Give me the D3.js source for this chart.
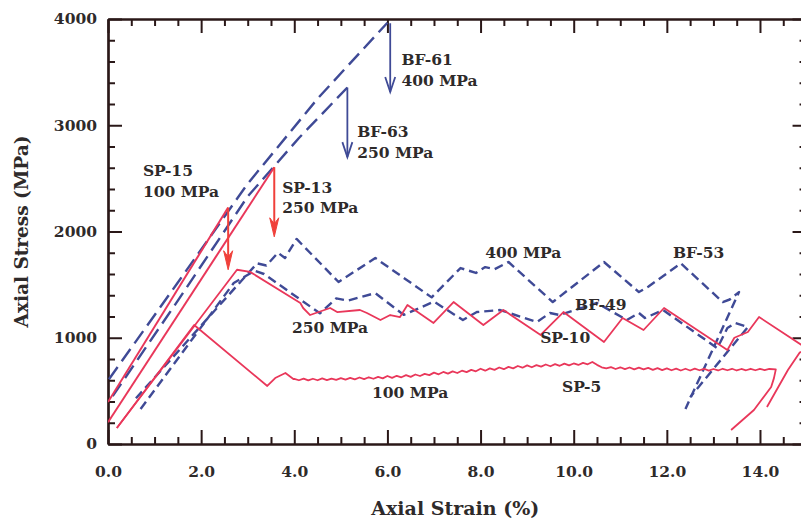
<!DOCTYPE html>
<html><head><meta charset="utf-8">
<script src="https://cdn.jsdelivr.net/npm/d3@7/dist/d3.min.js"></script>
<style>
body{margin:0;background:#fff}
svg{display:block}
text{font-family:"DejaVu Serif",serif;font-weight:bold}
</style>
</head><body>
<svg id="c" width="801" height="532"></svg>
<script>
// ---------- data (strain %, stress MPa) ----------
const xMajorTicks = [0, 2, 4, 6, 8, 10, 12, 14];
const yMajorTicks = [0, 1000, 2000, 3000, 4000];

const BF61 = [[0.02,610],[1.5,1520],[3.0,2450],[4.5,3250],[6.0,3965]];
const BF63 = [[0.1,450],[1.5,1350],[3.0,2330],[4.1,2880],[5.14,3355]];
const SP15 = [[0.0,395],[2.58,2225]];
const SP13 = [[0.0,205],[3.57,2605]];

const BF53 = [[0.6,430],[3.2,1700],[3.4,1680],[3.65,1800],[3.8,1750],[4.05,1930],
  [4.95,1525],[5.74,1750],[6.95,1380],[7.57,1656],[7.9,1610],[8.1,1665],[8.3,1645],
  [8.6,1713],[9.55,1336],[10.65,1713],[11.4,1430],[11.6,1480],[12.3,1700],[13.2,1336],
  [13.35,1360],[13.55,1430],[12.4,330]];

const BF49 = [[0.7,330],[2.7,1515],[3.15,1630],[3.35,1600],[4.55,1230],[4.9,1370],
  [5.15,1350],[5.74,1420],[6.35,1215],[7.0,1340],[7.62,1167],[7.92,1242],[8.42,1261],
  [9.21,1148],[9.49,1233],[9.7,1214],[10.5,1327],[11.14,1167],[11.4,1233],[11.53,1186],
  [11.92,1261],[13.08,903],[13.15,960],[13.3,1092],[13.47,1139],[13.74,1101],[12.5,440]];

const SP10 = [[0.19,150],[2.77,1640],[3.05,1620],[4.13,1327],[4.19,1280],[4.34,1214],
  [4.77,1280],[4.92,1242],[5.41,1261],[5.56,1233],[5.85,1167],[6.06,1214],[6.27,1195],
  [6.43,1308],[6.99,1139],[7.42,1336],[8.06,1120],[8.49,1261],[9.29,1026],[9.78,1242],
  [10.65,960],[11.05,1186],[11.5,1073],[11.94,1280],[13.3,885],[13.45,1000],[13.74,1054],
  [13.98,1195],[14.9,930],[15.05,900],[14.85,860],[14.6,696],[14.15,348]];

const SP5 = [[0.19,150],[1.85,1120],[3.42,546],[3.59,621],[3.81,668],[3.98,612],
  [4.0,612],[4.1,600],[4.2,615],[4.3,598],[4.4,614],[4.5,600],[4.6,618],[4.7,602],[4.8,616],[4.9,604],
  [5.0,620],[5.1,606],[5.2,622],[5.3,608],[5.4,626],[5.5,610],[5.6,628],[5.7,614],[5.8,632],[5.9,618],
  [6.0,640],[6.1,622],[6.2,642],[6.3,628],[6.4,648],[6.5,632],[6.6,654],[6.7,640],[6.8,660],[6.9,648],
  [7.0,672],[7.1,656],[7.2,678],[7.3,662],[7.4,684],[7.5,668],[7.6,690],[7.7,676],[7.8,698],[7.9,684],
  [8.0,708],[8.1,690],[8.2,712],[8.3,698],[8.4,720],[8.5,704],[8.6,726],[8.7,712],[8.8,734],[8.9,718],
  [9.0,740],[9.1,722],[9.2,742],[9.3,728],[9.4,748],[9.5,732],[9.6,752],[9.7,736],[9.8,756],[9.9,740],
  [10.0,758],[10.1,744],[10.2,764],[10.3,750],[10.4,772],[10.5,745],[10.6,722],[10.7,712],[10.8,724],[10.9,706],
  [11.0,722],[11.1,704],[11.2,720],[11.3,702],[11.4,718],[11.5,702],[11.6,716],[11.7,698],[11.8,714],[11.9,696],
  [12.0,712],[12.1,694],[12.2,710],[12.3,692],[12.4,708],[12.5,692],[12.6,710],[12.7,694],[12.8,708],[12.9,690],
  [13.0,706],[13.1,692],[13.2,708],[13.3,694],[13.4,708],[13.5,692],[13.6,706],[13.7,694],[13.8,708],[13.9,694],
  [14.0,708],[14.1,696],[14.2,706],[14.34,702],[14.3,620],[14.24,537],[13.87,320],[13.38,132]];

const blueArrows = [{x:6.06, from:3960, to:3313},{x:5.14, from:3355, to:2700}];
const redArrows  = [{x:2.58, from:2225, to:1640},{x:3.57, from:2605, to:1950}];

const labels = [
  {t:"BF-61", x:6.3, y:3570}, {t:"400 MPa", x:6.3, y:3365},
  {t:"BF-63", x:5.35, y:2890}, {t:"250 MPa", x:5.35, y:2690},
  {t:"SP-15", x:0.75, y:2520}, {t:"100 MPa", x:0.75, y:2325},
  {t:"SP-13", x:3.74, y:2365}, {t:"250 MPa", x:3.74, y:2170},
  {t:"400 MPa", x:8.1, y:1750}, {t:"BF-53", x:12.13, y:1750},
  {t:"BF-49", x:10.03, y:1260}, {t:"SP-10", x:9.28, y:950},
  {t:"250 MPa", x:3.95, y:1045}, {t:"100 MPa", x:5.67, y:433}, {t:"SP-5", x:9.75, y:490}
];

// ---------- layout ----------
const svg = d3.select("#c");
const L = 108, T = 19, B = 444;
const x = d3.scaleLinear().domain([0, 15]).range([L, L + 15 * 46.57]);
const y = d3.scaleLinear().domain([0, 4000]).range([B, T]);
const R = x(15);

const axisColor = "#2a1818";
const textColor = "#2e2a2a";
const red = "#e9375a";
const redArrow = "#f0403a";
const blue = "#3f4a96";

svg.append("clipPath").attr("id","clip").append("rect")
  .attr("x", L).attr("y", T).attr("width", R - L).attr("height", B - T);

// ---------- axes ----------
const minorX = d3.range(0, 15.01, 0.5).filter(v => xMajorTicks.indexOf(v) < 0);
const minorY = d3.range(0, 4001, 200).filter(v => yMajorTicks.indexOf(v) < 0);

function styleAxis(g){
  g.selectAll("path.domain").attr("stroke", axisColor).attr("stroke-width", 2.2);
  g.selectAll(".tick line").attr("stroke", axisColor).attr("stroke-width", 2);
  g.selectAll("text").attr("fill", textColor).attr("font-size", 15.5)
    .attr("font-family", "DejaVu Serif").attr("font-weight", "bold");
}

// bottom
svg.append("g").attr("transform", `translate(0,${B})`)
  .call(d3.axisBottom(x).tickValues(minorX).tickSize(-7).tickFormat("").tickSizeOuter(0)).call(styleAxis);
svg.append("g").attr("transform", `translate(0,${B})`)
  .call(d3.axisBottom(x).tickValues(xMajorTicks).tickSize(-14).tickPadding(22).tickSizeOuter(0)
    .tickFormat(d3.format(".1f"))).call(styleAxis);
// top
svg.append("g").attr("transform", `translate(0,${T})`)
  .call(d3.axisTop(x).tickValues(minorX).tickSize(-7).tickFormat("").tickSizeOuter(0)).call(styleAxis);
svg.append("g").attr("transform", `translate(0,${T})`)
  .call(d3.axisTop(x).tickValues(xMajorTicks).tickSize(-14).tickFormat("").tickSizeOuter(0)).call(styleAxis);
// left
svg.append("g").attr("transform", `translate(${L},0)`)
  .call(d3.axisLeft(y).tickValues(minorY).tickSize(-7).tickFormat("").tickSizeOuter(0)).call(styleAxis);
svg.append("g").attr("transform", `translate(${L},0)`)
  .call(d3.axisLeft(y).tickValues(yMajorTicks).tickSize(-14).tickPadding(11).tickSizeOuter(0)
    .tickFormat(d3.format("d"))).call(styleAxis);
// right
svg.append("g").attr("transform", `translate(${R},0)`)
  .call(d3.axisRight(y).tickValues(minorY).tickSize(-7).tickFormat("").tickSizeOuter(0)).call(styleAxis);
svg.append("g").attr("transform", `translate(${R},0)`)
  .call(d3.axisRight(y).tickValues(yMajorTicks).tickSize(-14).tickFormat("").tickSizeOuter(0)).call(styleAxis);

// axis titles
svg.append("text").attr("x", (L + R) / 2 - 2).attr("y", 515).attr("text-anchor", "middle")
  .attr("font-size", 19).attr("fill", textColor).text("Axial Strain (%)");
svg.append("text").attr("transform", `translate(28,${(T + B) / 2}) rotate(-90)`).attr("text-anchor", "middle")
  .attr("font-size", 18.5).attr("fill", textColor).text("Axial Stress (MPa)");

// ---------- curves ----------
const line = d3.line().x(d => x(d[0])).y(d => y(d[1]));
const plot = svg.append("g").attr("clip-path", "url(#clip)");

const series = [
  {d:BF61, c:blue, w:2.4, dash:"15,7"},
  {d:BF63, c:blue, w:2.4, dash:"15,7"},
  {d:BF53, c:blue, w:2.4, dash:"9,5"},
  {d:BF49, c:blue, w:2.4, dash:"9,5"},
  {d:SP5,  c:red,  w:1.8, dash:null},
  {d:SP10, c:red,  w:1.8, dash:null},
  {d:SP15, c:red,  w:2.0, dash:null},
  {d:SP13, c:red,  w:2.0, dash:null}
];
series.forEach(s => {
  plot.append("path").attr("d", line(s.d)).attr("fill", "none")
    .attr("stroke", s.c).attr("stroke-width", s.w)
    .attr("stroke-dasharray", s.dash).attr("stroke-linejoin", "round");
});

// ---------- arrows ----------
blueArrows.forEach(a => {
  const ax = x(a.x), y0 = y(a.from), y1 = y(a.to);
  svg.append("line").attr("x1", ax).attr("x2", ax).attr("y1", y0).attr("y2", y1)
    .attr("stroke", blue).attr("stroke-width", 1.8);
  svg.append("path").attr("d", `M${ax - 5},${y1 - 15} L${ax},${y1} L${ax + 5},${y1 - 15}`)
    .attr("fill", "none").attr("stroke", blue).attr("stroke-width", 1.8);
});
redArrows.forEach(a => {
  const ax = x(a.x), y0 = y(a.from), y1 = y(a.to);
  svg.append("line").attr("x1", ax).attr("x2", ax).attr("y1", y0).attr("y2", y1 - 8)
    .attr("stroke", redArrow).attr("stroke-width", 2);
  svg.append("path").attr("d", `M${ax - 4.5},${y1 - 19} L${ax},${y1} L${ax + 4.5},${y1 - 19} L${ax},${y1 - 13} Z`)
    .attr("fill", redArrow).attr("stroke", redArrow).attr("stroke-width", 1);
});

// ---------- labels ----------
labels.forEach(l => {
  svg.append("text").attr("x", x(l.x)).attr("y", y(l.y)).attr("font-size", 15.5)
    .attr("fill", textColor).text(l.t);
});
</script>
</body></html>
